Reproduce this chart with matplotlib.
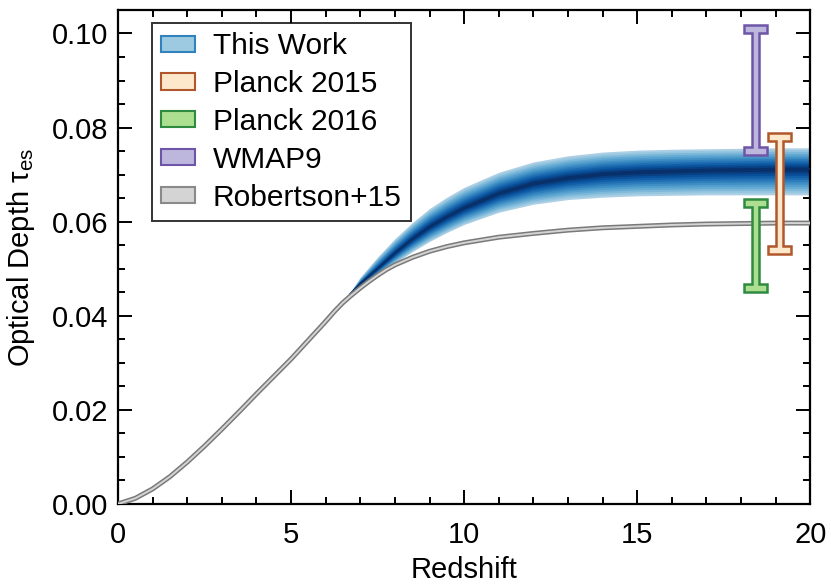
import numpy as np
import matplotlib
matplotlib.use('Agg')
import matplotlib.pyplot as plt
from matplotlib.patches import Patch, Polygon

plt.rcParams['font.family'] = ['Liberation Sans', 'DejaVu Sans']

# Robertson+15 curve
z_rob = [0, 0.5, 1, 1.5, 2, 2.5, 3, 3.5, 4, 4.5, 5, 5.5, 6, 6.25, 6.5, 6.75,
         7, 7.25, 7.5, 7.75, 8, 8.5, 9, 9.5, 10, 11, 12, 13, 14, 15, 16, 17,
         18, 19, 20]
tau_rob = [0.0000, 0.0012, 0.0032, 0.0058, 0.0089, 0.0123, 0.0159, 0.0196,
           0.0234, 0.0271, 0.0308, 0.0348, 0.0388, 0.0409, 0.0428, 0.0444,
           0.0459, 0.0473, 0.0486, 0.0498, 0.0508, 0.0524, 0.0537, 0.0547,
           0.0555, 0.0567, 0.0575, 0.0582, 0.0587, 0.0590, 0.0593, 0.0595,
           0.0596, 0.0597, 0.0597]

# This Work: median and outer envelope
z_band = [6.7, 7.0, 7.5, 8.0, 8.5, 9.0, 9.5, 10, 11, 12, 13, 14, 15, 16, 17,
          18, 19, 20]
tau_med = [0.0446, 0.0469, 0.0501, 0.0534, 0.0564, 0.0590, 0.0611, 0.0630,
           0.0661, 0.0682, 0.0694, 0.0702, 0.0706, 0.0708, 0.0710, 0.0711,
           0.0712, 0.0712]
tau_hi = [0.0449, 0.0482, 0.0525, 0.0564, 0.0598, 0.0628, 0.0652, 0.0673,
          0.0705, 0.0727, 0.0740, 0.0748, 0.0752, 0.0754, 0.0755, 0.0756,
          0.0757, 0.0757]
tau_lo = [0.0444, 0.0461, 0.0487, 0.0512, 0.0536, 0.0558, 0.0577, 0.0594,
          0.0620, 0.0637, 0.0647, 0.0652, 0.0655, 0.0656, 0.0657, 0.0657,
          0.0657, 0.0657]

# CMB constraints
cmb_names = ['WMAP9', 'Planck 2015', 'Planck 2016']
cmb_z = [18.41, 19.11, 18.41]
cmb_lo = [0.075, 0.054, 0.046]
cmb_hi = [0.101, 0.078, 0.064]
cmb_edge = ['#6f55a8', '#b0582c', '#2e8b3f']
cmb_face = ['#bdb7dd', '#fde8cc', '#addf90']

fig = plt.figure(figsize=(8.31, 5.86), dpi=100)
ax = fig.add_axes([0.142, 0.140, 0.833, 0.843])

# blue band as nested layers to get the gradient
zb = np.array(z_band)
med = np.array(tau_med)
hi = np.array(tau_hi)
lo = np.array(tau_lo)
nlev = 12
for k in range(nlev):
    f = 1.0 - k / nlev
    c = plt.cm.Blues(0.33 + 0.67 * k / (nlev - 1))
    ax.fill_between(zb, med - f * (med - lo), med + f * (hi - med),
                    color=c, linewidth=0, zorder=2)
ax.plot(zb, med, color='#08306b', lw=1.2, zorder=3)

# Robertson+15
ax.plot(z_rob, tau_rob, color='#7a7a7a', lw=3.6, zorder=4, solid_capstyle='butt')
ax.plot(z_rob, tau_rob, color='#d4d4d4', lw=1.4, zorder=5, solid_capstyle='butt')

# I-beam error bars
W, w, h = 0.33, 0.10, 0.0017
for zc, l, u, ec, fc in zip(cmb_z, cmb_lo, cmb_hi, cmb_edge, cmb_face):
    verts = [(zc - W, l - h / 2), (zc + W, l - h / 2), (zc + W, l + h / 2),
             (zc + w, l + h / 2), (zc + w, u - h / 2), (zc + W, u - h / 2),
             (zc + W, u + h / 2), (zc - W, u + h / 2), (zc - W, u - h / 2),
             (zc - w, u - h / 2), (zc - w, l + h / 2), (zc - W, l + h / 2)]
    ax.add_patch(Polygon(verts, closed=True, facecolor=fc, edgecolor=ec,
                         lw=1.8, zorder=6))

ax.set_xlim(0, 20)
ax.set_ylim(0, 0.105)
ax.set_xticks([0, 5, 10, 15, 20])
ax.set_xticks(np.arange(0, 21, 1), minor=True)
ax.set_yticks([0.00, 0.02, 0.04, 0.06, 0.08, 0.10])
ax.set_yticks(np.arange(0, 0.1051, 0.005), minor=True)
ax.set_yticklabels(['0.00', '0.02', '0.04', '0.06', '0.08', '0.10'])
ax.tick_params(which='both', direction='in', top=True, right=True,
               labelsize=21, width=1.4)
ax.tick_params(which='major', length=10)
ax.tick_params(which='minor', length=5)
ax.tick_params(axis='x', which='major', pad=12)
ax.tick_params(axis='y', which='major', pad=7)
for s in ax.spines.values():
    s.set_linewidth(1.6)

ax.set_xlabel('Redshift', fontsize=21, labelpad=5)
ax.set_ylabel('Optical Depth τ$_\\mathregular{es}$', fontsize=21, labelpad=11)

handles = [Patch(facecolor='#9ecae1', edgecolor='#3182bd', lw=1.5),
           Patch(facecolor=cmb_face[1], edgecolor=cmb_edge[1], lw=1.5),
           Patch(facecolor=cmb_face[2], edgecolor=cmb_edge[2], lw=1.5),
           Patch(facecolor=cmb_face[0], edgecolor=cmb_edge[0], lw=1.5),
           Patch(facecolor='#d4d4d4', edgecolor='#8a8a8a', lw=1.5)]
labels = ['This Work', 'Planck 2015', 'Planck 2016', 'WMAP9', 'Robertson+15']
leg = ax.legend(handles, labels, loc='upper left', bbox_to_anchor=(0.04, 0.985),
                fontsize=21.5, frameon=True, fancybox=False, edgecolor='black',
                labelspacing=0.33, handlelength=1.15, handleheight=0.45,
                handletextpad=0.6, borderpad=0.3, borderaxespad=0.2)
leg.get_frame().set_linewidth(1.4)

fig.savefig('out.png', dpi=100)
